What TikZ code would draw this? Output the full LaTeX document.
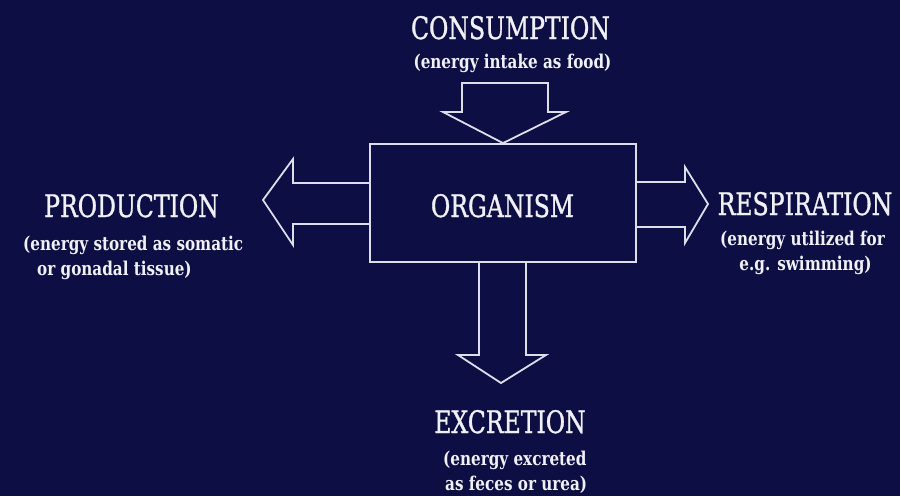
\documentclass[tikz,border=0pt]{standalone}
\usepackage{fontspec}
\newfontfamily\ttlfont[FakeStretch=0.76,FakeBold=1]{DejaVu Serif}
\newfontfamily\subfont[FakeStretch=0.8]{DejaVu Serif}
\definecolor{bgnavy}{RGB}{13,15,68}
\definecolor{chalk}{RGB}{222,222,234}
\definecolor{txt}{RGB}{240,240,246}
\begin{document}
\begin{tikzpicture}[x=1pt,y=-1pt,
  title/.style={text=txt,font=\ttlfont\fontsize{31}{33}\selectfont,inner sep=0pt},
  sub/.style={text=txt,font=\subfont\bfseries\fontsize{19}{21}\selectfont,inner sep=0pt},
  outline/.style={draw=chalk,line width=1.8pt,line join=miter}]
\fill[bgnavy] (0,0) rectangle (900,496);
\useasboundingbox (0,0) rectangle (900,496);
% central box
\node[outline,minimum width=266pt,minimum height=118pt,inner sep=0pt] (org) at (503,203) {};
\node[title,anchor=base] (orgt) at (502.5,217) {ORGANISM};
% top arrow (consumption)
\draw[outline] (org.north) coordinate (ctip)
  (ctip) -- (443,112) -- (462,112) -- (462,83) -- (548,83) -- (548,112) -- (566,112) -- cycle;
% left arrow (production)
\draw[outline] (org.west |- 0,183) -- (293,183) -- (293,159) -- (263,200) -- (293,245) -- (293,224) -- (org.west |- 0,224);
% right arrow (respiration)
\draw[outline] (org.east |- 0,182) -- (685,182) -- (685,167) -- (708,204) -- (685,243) -- (685,227) -- (org.east |- 0,227);
% bottom arrow (excretion)
\draw[outline] (479,0 |- org.south) -- (479,355) -- (458,355) -- (501,383) -- (546,355) -- (526,355) -- (526,0 |- org.south);
% texts
\node[title,anchor=base] (cons) at (510.5,39) {CONSUMPTION};
\node[sub,anchor=base] (conss) at (512.5,68) {(energy intake as food)};
\node[title,anchor=base] (prod) at (131.5,217) {PRODUCTION};
\node[sub,anchor=base west] (prods1) at (23,250) {(energy stored as somatic};
\node[sub,anchor=base west] (prods2) at (37,275) {or gonadal tissue)};
\node[title,anchor=base] (resp) at (805,215) {RESPIRATION};
\node[sub,anchor=base] (resps1) at (802.5,245) {(energy utilized for};
\node[sub,anchor=base] (resps2) at (805.5,270) {e.g. swimming)};
\node[title,anchor=base] (excr) at (510,433) {EXCRETION};
\node[sub,anchor=base west] (excrs1) at (443,465) {(energy excreted};
\node[sub,anchor=base west] (excrs2) at (445,490) {as feces or urea)};
\end{tikzpicture}
\end{document}
